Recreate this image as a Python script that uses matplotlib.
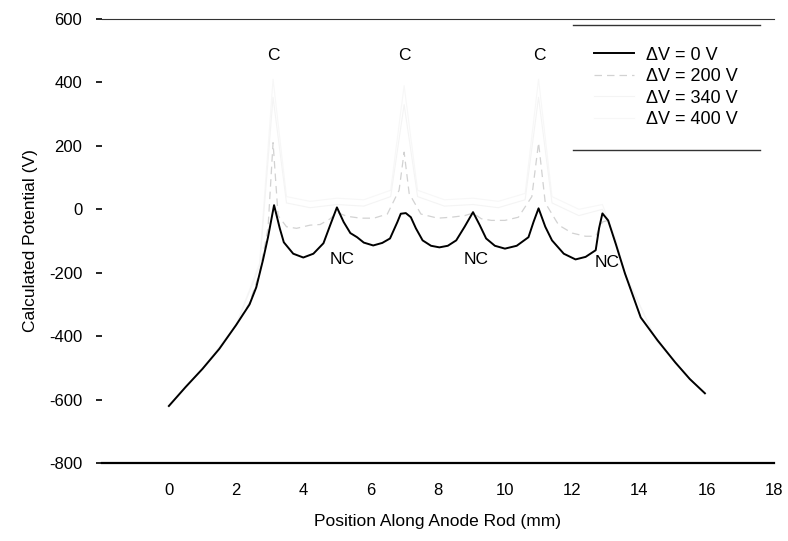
import matplotlib.pyplot as plt

plt.rcParams["font.family"] = ["Liberation Sans", "DejaVu Sans"]
plt.rcParams["axes.unicode_minus"] = False

# potential along the anode rod
pos_0v = [0, 0.5, 1.0, 1.5, 2.0, 2.4, 2.6, 2.8, 2.95, 3.13, 3.3, 3.42, 3.7, 4.0, 4.3,
          4.6, 4.8, 5.0, 5.2, 5.4, 5.6, 5.8, 6.08, 6.35, 6.58, 6.8, 6.9, 7.05, 7.2,
          7.35, 7.55, 7.8, 8.05, 8.3, 8.55, 8.8, 9.05, 9.25, 9.44, 9.7, 10.0, 10.35,
          10.7, 10.85, 11.0, 11.2, 11.4, 11.75, 12.1, 12.4, 12.7, 12.8, 12.9, 13.07,
          13.3, 13.57, 14.04, 14.54, 15.07, 15.5, 15.95]
pot_0v = [-620, -560, -503, -440, -365, -300, -246, -160, -88, 13, -60, -104, -140, -152,
          -140, -107, -50, 6, -40, -75, -88, -105, -114, -106, -92, -40, -14, -12, -25,
          -60, -98, -115, -120, -115, -98, -55, -9, -50, -92, -115, -124, -115, -88,
          -40, 3, -55, -98, -140, -158, -150, -129, -60, -13, -35, -110, -202, -341,
          -413, -483, -535, -580]

pos_200v = [0, 0.5, 1.0, 1.5, 2.0, 2.4, 2.7, 2.95, 3.1, 3.25, 3.5, 3.8, 4.2, 4.5, 4.8,
            5.0, 5.3, 5.7, 6.1, 6.5, 6.85, 7.0, 7.15, 7.5, 8.0, 8.4, 8.8, 9.05, 9.3,
            9.6, 10.0, 10.4, 10.8, 11.0, 11.2, 11.6, 12.0, 12.4, 12.7, 12.9, 13.07,
            13.3, 13.57, 14.04, 14.54, 15.07, 15.5, 15.95]
pot_200v = [-620, -560, -503, -440, -365, -295, -200, -60, 210, -20, -55, -60, -50, -48,
            -30, -10, -22, -28, -28, -15, 60, 180, 50, -15, -28, -25, -20, -12, -30,
            -35, -35, -25, 40, 210, 20, -50, -75, -85, -85, -40, -35, -110, -202,
            -341, -413, -483, -535, -580]

pos_340v = [0, 1.0, 2.0, 2.7, 3.1, 3.5, 4.2, 5.0, 5.8, 6.6, 7.0, 7.4, 8.2, 9.05, 9.8,
            10.6, 11.0, 11.4, 12.2, 12.9, 13.3, 13.57, 14.5, 15.5, 15.95]
pot_340v = [-620, -503, -365, -180, 353, 20, 5, 15, 10, 40, 330, 40, 10, 15, 5, 30,
            353, 20, -20, 0, -100, -202, -413, -535, -580]

pos_400v = [0, 1.0, 2.0, 2.7, 3.1, 3.5, 4.2, 5.0, 5.8, 6.6, 7.0, 7.4, 8.2, 9.05, 9.8,
            10.6, 11.0, 11.4, 12.2, 12.9, 13.3, 13.57, 14.5, 15.5, 15.95]
pot_400v = [-620, -503, -365, -170, 410, 40, 25, 35, 30, 60, 390, 60, 30, 35, 25, 50,
            410, 40, 0, 15, -95, -202, -413, -535, -580]

c_pos = [3.1, 7.02, 11.03]
nc_pos = [5.16, 9.14, 13.05]
nc_pot = [-158, -158, -168]

fig, ax = plt.subplots(figsize=(7.88, 5.41), dpi=100)
fig.subplots_adjust(left=0.129, right=0.982, bottom=0.144, top=0.965)

ax.plot(pos_0v, pot_0v, color="black", lw=1.4, label="\u0394V = 0 V", zorder=4)
ax.plot(pos_200v, pot_200v, color="#d2d2d2", lw=0.9, dashes=(6, 4),
        label="\u0394V = 200 V", zorder=3)
ax.plot(pos_340v, pot_340v, color="#f4f4f4", lw=0.8, label="\u0394V = 340 V", zorder=2)
ax.plot(pos_400v, pot_400v, color="#f7f7f7", lw=0.8, label="\u0394V = 400 V", zorder=1)

for x in c_pos:
    ax.text(x, 486, "C", ha="center", va="center", fontsize=12.5)
for x, y in zip(nc_pos, nc_pot):
    ax.text(x, y, "NC", ha="center", va="center", fontsize=12.5)

ax.set_xlim(-2, 18)
ax.set_ylim(-800, 600)
ax.set_xticks(range(0, 19, 2))
ax.set_yticks(range(-800, 601, 200))
ax.tick_params(axis="x", length=0, pad=14, labelsize=12)
ax.tick_params(axis="y", length=4, width=1.2, pad=10, labelsize=12)
ax.spines["left"].set_visible(False)
ax.spines["right"].set_visible(False)
ax.spines["top"].set_color("#333333")
ax.spines["bottom"].set_linewidth(1.6)

ax.set_xlabel("Position Along Anode Rod (mm)", fontsize=12.5, labelpad=12)
ax.set_ylabel("Calculated Potential (V)", fontsize=12.5, labelpad=8)

leg = ax.legend(loc="upper right", bbox_to_anchor=(0.979, 0.9865), fontsize=13,
                handlelength=2.2, handletextpad=0.67, labelspacing=0.25,
                borderpad=1.2, borderaxespad=0, frameon=False)

# only top and bottom rules of the legend box survive in the scan
fig.canvas.draw()
bb = leg.get_window_extent().transformed(ax.transAxes.inverted())
for yy in (bb.y0, bb.y1):
    ax.plot([bb.x0, bb.x1], [yy, yy], transform=ax.transAxes, color="#333333",
            lw=1.0, clip_on=False)

plt.savefig("out.png", dpi=100)
plt.close()
